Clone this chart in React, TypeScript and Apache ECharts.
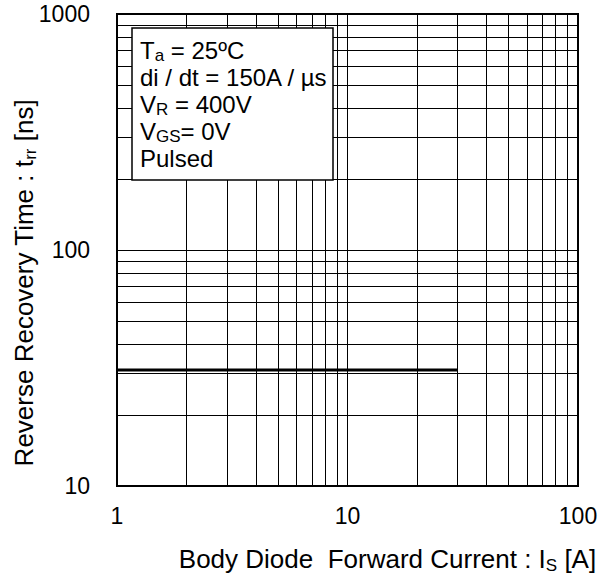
import React, { useEffect, useRef } from "react";
import * as echarts from "echarts";

const currentA = [1, 30];
const trrNs = [31, 31];
const xMinorGrid = [2, 3, 4, 5, 6, 7, 8, 9, 20, 30, 40, 50, 60, 70, 80, 90];
const yMinorGrid = [20, 30, 40, 50, 60, 70, 80, 90, 200, 300, 400, 500, 600, 700, 800, 900];
const legendLines = [
  "{m|T}{s|a}{m| = 25ºC}",
  "{m|di / dt = 150A / µs}",
  "{m|V}{s|R}{m| = 400V}",
  "{m|V}{s|GS}{m|= 0V}",
  "{m|Pulsed}",
];
const xName = "Body Diode  Forward Current : I{s|S} [A]";
const yName = "Reverse Recovery Time : t{s|rr} [ns]";

const FONT = "Liberation Sans, Arial, sans-serif";

export default function App() {
  const ref = useRef<HTMLDivElement>(null);
  useEffect(() => {
    if (!ref.current) return;
    const chart = echarts.init(ref.current, undefined, { renderer: "svg" });
    const subStyle = { fontSize: 17, fontFamily: FONT, color: "#000", verticalAlign: "bottom", lineHeight: 8 };
    const plain = (v: number) => String(v);
    chart.setOption({
      animation: false,
      backgroundColor: "#fff",
      grid: {
        left: 117,
        right: 33,
        top: 14,
        bottom: 93,
        containLabel: false,
        outerBoundsMode: "none",
        show: true,
        borderColor: "#000",
        borderWidth: 2,
        backgroundColor: "transparent",
      },
      xAxis: {
        type: "log",
        logBase: 10,
        min: 1,
        max: 100,
        name: xName,
        nameLocation: "middle",
        nameGap: 58,
        nameMoveOverlap: false,
        nameTextStyle: {
          fontSize: 26,
          fontFamily: FONT,
          color: "#000",
          lineHeight: 30,
          padding: [0, 0, 0, 80],
          rich: { s: subStyle },
        },
        axisLine: { show: false },
        axisTick: { show: false },
        axisLabel: { fontSize: 23, fontFamily: FONT, color: "#000", margin: 18, formatter: plain },
        splitLine: { show: true, lineStyle: { color: "#000", width: 1 } },
      },
      yAxis: {
        type: "log",
        logBase: 10,
        min: 10,
        max: 1000,
        name: yName,
        nameLocation: "middle",
        nameGap: 78,
        nameMoveOverlap: false,
        nameTextStyle: {
          fontSize: 26,
          fontFamily: FONT,
          color: "#000",
          lineHeight: 30,
          padding: [0, 66, 0, 0],
          rich: { s: subStyle },
        },
        axisLine: { show: false },
        axisTick: { show: false },
        axisLabel: { fontSize: 23, fontFamily: FONT, color: "#000", margin: 27, formatter: plain },
        splitLine: { show: true, lineStyle: { color: "#000", width: 1 } },
      },
      series: [
        {
          type: "line",
          data: currentA.map((x, i) => [x, trrNs[i]]),
          symbol: "none",
          lineStyle: { color: "#000", width: 3 },
          silent: true,
          z: 3,
          markLine: {
            silent: true,
            symbol: ["none", "none"],
            label: { show: false },
            emphasis: { disabled: true },
            lineStyle: { color: "#000", width: 1, type: "solid" },
            data: [
              ...xMinorGrid.map((v) => ({ xAxis: v })),
              ...yMinorGrid.map((v) => ({ yAxis: v })),
            ],
          },
        },
      ],
      graphic: [
        {
          type: "rect",
          z: 100,
          shape: { x: 132, y: 28, width: 201, height: 152 },
          style: { fill: "#fff", stroke: "#000", lineWidth: 1.5 },
        },
        {
          type: "text",
          z: 101,
          x: 140,
          y: 37,
          style: {
            text: legendLines.join("\n"),
            fontSize: 24,
            fontFamily: FONT,
            fill: "#000",
            verticalAlign: "top",
            align: "left",
            lineHeight: 27,
            rich: {
              m: { fontSize: 24, fontFamily: FONT, fill: "#000", lineHeight: 27 },
              s: { fontSize: 17, fontFamily: FONT, fill: "#000", lineHeight: 6, verticalAlign: "bottom" },
            },
          },
        },
      ],
    });
    return () => chart.dispose();
  }, []);
  return (
    <div
      ref={ref}
      style={{ position: "absolute", left: 0, top: 0, width: 611, height: 579, background: "#fff" }}
    />
  );
}
